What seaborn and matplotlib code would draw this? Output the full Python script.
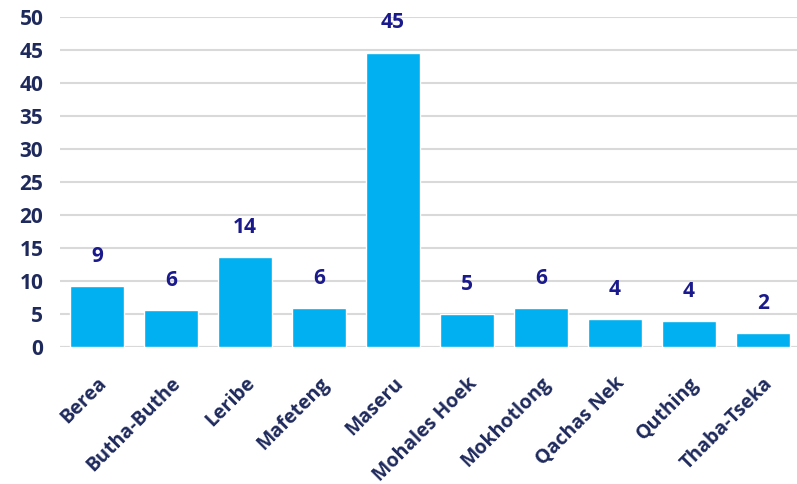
import matplotlib
matplotlib.use("Agg")
import matplotlib.pyplot as plt
import seaborn as sns
import pandas as pd

districts = ["Berea", "Butha-Buthe", "Leribe", "Mafeteng", "Maseru",
             "Mohales Hoek", "Mokhotlong", "Qachas Nek", "Quthing", "Thaba-Tseka"]
shares = [9.2, 5.6, 13.6, 5.9, 44.6, 5.0, 5.9, 4.2, 3.9, 2.1]
y_ticks = [0, 5, 10, 15, 20, 25, 30, 35, 40, 45, 50]

sns.set_theme(style="white")
plt.rcParams["font.family"] = ["Open Sans", "DejaVu Sans"]

df = pd.DataFrame({"district": districts, "share": shares})

W, H = 797, 484
fig = plt.figure(figsize=(W / 100, H / 100), dpi=100)
ax = fig.add_axes([60 / W, 1 - 347 / H, 740 / W, 330 / H])

sns.barplot(data=df, x="district", y="share", color="#00B0F0",
            saturation=1, width=0.74, ax=ax)

ax.set_ylim(0, 50)
ax.set_xlim(-0.5, len(districts) - 0.5)
ax.set_yticks(y_ticks)
ax.yaxis.grid(True, color="#D9D9D9", linewidth=1.5)
ax.set_axisbelow(True)
for s in ax.spines.values():
    s.set_visible(False)
ax.axhline(0, color="#D9D9D9", linewidth=1.5, zorder=0.5)

ax.set_xlabel("")
ax.set_ylabel("")
ax.tick_params(axis="y", length=0, pad=12, labelsize=15, labelcolor="#1F2A5C")
ax.tick_params(axis="x", length=0, pad=19)
for lbl in ax.get_yticklabels():
    lbl.set_fontweight("bold")
ax.set_xticks(range(len(districts)))
ax.set_xticklabels(districts, rotation=45, ha="right", rotation_mode="anchor",
                   fontsize=14, fontweight="bold", color="#1F2A5C")

for bar, v in zip(ax.patches, shares):
    ax.annotate(f"{v:.0f}", (bar.get_x() + bar.get_width() / 2, v),
                xytext=(0, 14), textcoords="offset points",
                ha="center", va="bottom", fontsize=15, fontweight="bold",
                color="#1A1A8C")

fig.savefig("out.png", dpi=100)
